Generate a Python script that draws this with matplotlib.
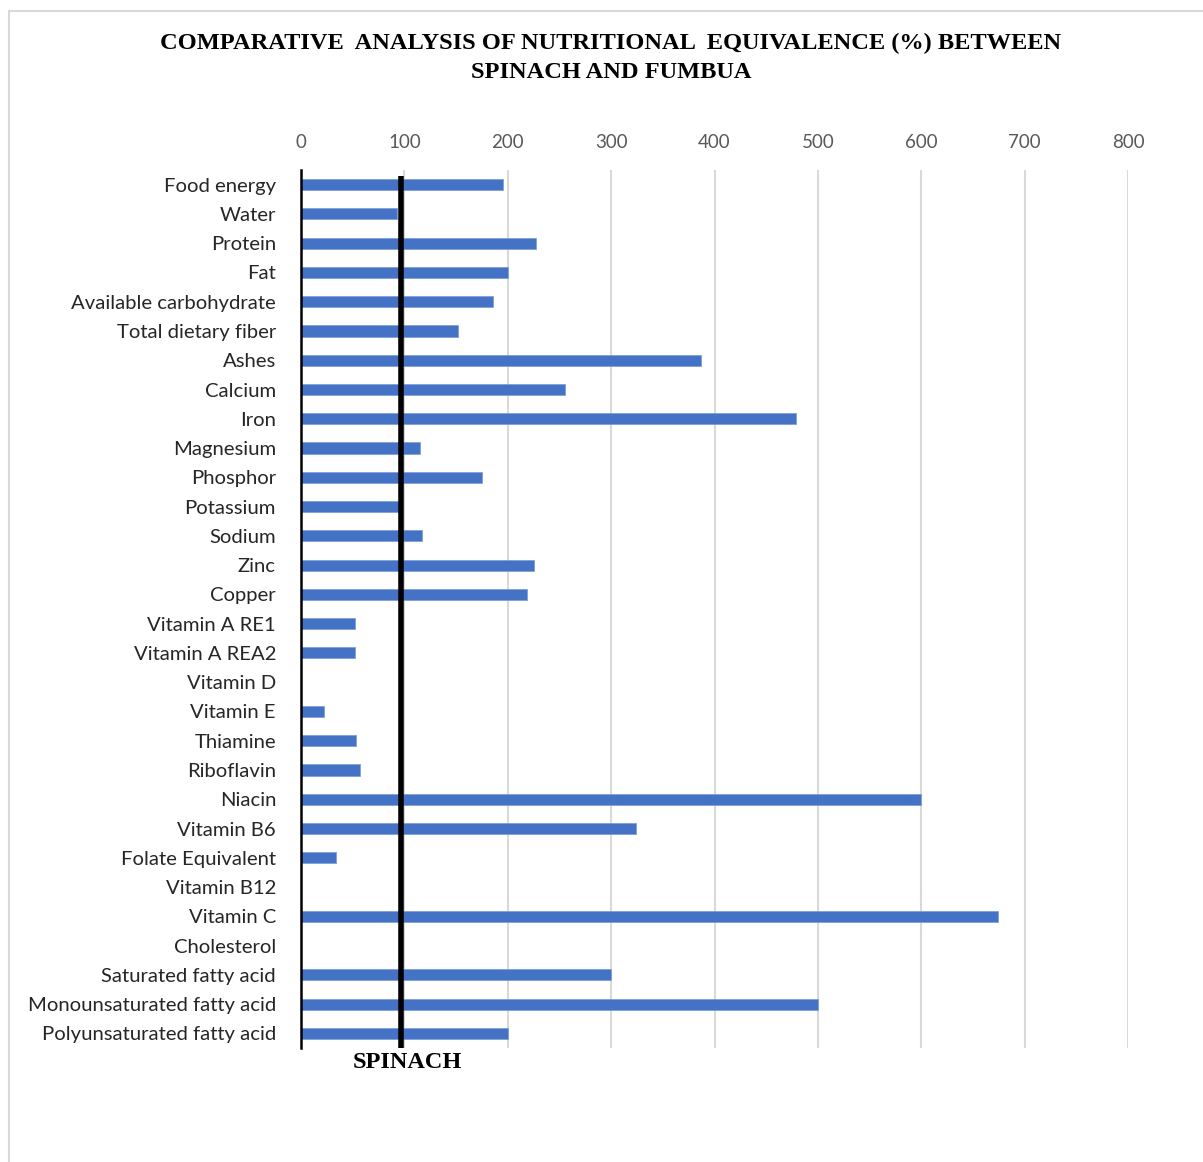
import matplotlib
matplotlib.use("Agg")
import matplotlib.pyplot as plt
from matplotlib.patches import Rectangle

# Nutrient categories (top to bottom) and fumbua value as % of spinach
nutrients = [
    "Food energy", "Water", "Protein", "Fat", "Available carbohydrate",
    "Total dietary fiber", "Ashes", "Calcium", "Iron", "Magnesium",
    "Phosphor", "Potassium", "Sodium", "Zinc", "Copper",
    "Vitamin A RE1", "Vitamin A REA2", "Vitamin D", "Vitamin E", "Thiamine",
    "Riboflavin", "Niacin", "Vitamin B6", "Folate Equivalent", "Vitamin B12",
    "Vitamin C", "Cholesterol", "Saturated fatty acid",
    "Monounsaturated fatty acid", "Polyunsaturated fatty acid",
]
equivalence = [
    195, 93, 227, 200, 186,
    152, 387, 255, 479, 115,
    175, 95, 117, 225, 219,
    52, 52, 0, 22, 53,
    57, 600, 324, 34, 0,
    674, 0, 300,
    500, 200,
]
x_ticks = [0, 100, 200, 300, 400, 500, 600, 700, 800]
spinach_ref = 97

W, H = 1203, 1162
fig = plt.figure(figsize=(W / 100, H / 100), dpi=100)

# light chart-area frame
fig.patches.append(Rectangle((9 / W, -0.01), 1.2, 1 - 11 / H + 0.01,
                             transform=fig.transFigure, fill=False,
                             edgecolor="#d9d9d9", linewidth=1.5))

ax = fig.add_axes([301 / W, 1 - 1048 / H, (1128 - 301) / W, 878 / H])

ypos = list(range(len(nutrients)))
ax.barh(ypos, equivalence, height=0.38, color="#4472C4",
        edgecolor="#7f9fd8", linewidth=0.6, zorder=3)

ax.set_xlim(0, 800)
ax.set_ylim(len(nutrients) - 0.5, -0.5)
ax.set_xticks(x_ticks)
ax.set_xticklabels([str(t) for t in x_ticks])
ax.xaxis.tick_top()
ax.tick_params(axis="x", length=0, pad=14, labelsize=13.5, labelcolor="#595959")
ax.set_yticks(ypos)
ax.set_yticklabels(nutrients)
ax.tick_params(axis="y", length=0, pad=18, labelsize=14.6, labelcolor="#262626")
for lbl in ax.get_xticklabels() + ax.get_yticklabels():
    lbl.set_fontfamily("Lato")

ax.grid(axis="x", color="#d9d9d9", linewidth=1.5, zorder=0)
ax.set_axisbelow(True)
for side in ("top", "right", "bottom"):
    ax.spines[side].set_visible(False)
ax.spines["left"].set_color("black")
ax.spines["left"].set_linewidth(1.8)
ax.spines["left"].set_zorder(5)

# spinach reference line (100 % equivalence)
ax.vlines(spinach_ref, -0.3, len(nutrients) - 0.5, color="black",
          linewidth=4, zorder=4)

fig.text(407 / W, 1 - 1062 / H, "SPINACH", ha="center", va="center",
         fontfamily="Liberation Serif", fontweight="bold", fontsize=17.5)

fig.text(611 / W, 1 - 43 / H,
         "COMPARATIVE  ANALYSIS OF NUTRITIONAL  EQUIVALENCE (%) BETWEEN",
         ha="center", va="center", fontfamily="Liberation Serif",
         fontweight="bold", fontsize=17.6)
fig.text(611 / W, 1 - 72 / H, "SPINACH AND FUMBUA",
         ha="center", va="center", fontfamily="Liberation Serif",
         fontweight="bold", fontsize=17.6)

fig.savefig("out.png", dpi=100, facecolor="white")
